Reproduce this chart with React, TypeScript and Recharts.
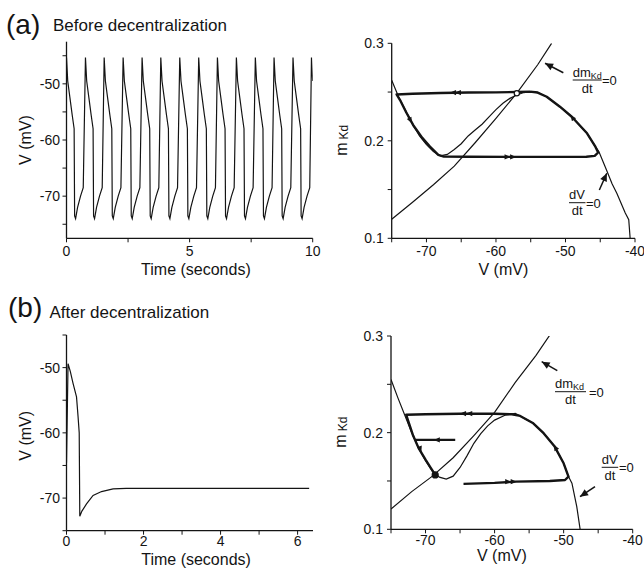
import React from 'react'
import { ComposedChart, Line, XAxis, YAxis, Label } from 'recharts'

const FONT = '"Liberation Sans", Arial, Helvetica, sans-serif'
const INK = '#141414'

// ---- (a) left: membrane potential before decentralization ----
const spikePeakTimesA = [0, 0.77, 1.53, 2.3, 3.07, 3.83, 4.6, 5.37, 6.13, 6.9, 7.67, 8.43, 9.2, 9.95]
const spikeOffsetsA = [0, 0.05, 0.14, 0.23, 0.31, 0.33, 0.37, 0.45, 0.57, 0.68]
const spikeVoltsA = [-45.3, -49.5, -52.5, -55.5, -58, -73.5, -74, -72, -70, -68.5]

// ---- (b) left: membrane potential after decentralization ----
const timeB = [0, 0.04, 0.1, 0.17, 0.26, 0.3, 0.33, 0.345, 0.4, 0.52, 0.69, 0.91, 1.21, 1.55, 6.3]
const voltB = [-64.6, -49.4, -50.6, -52.4, -54.5, -57.5, -60, -72.8, -72, -70.9, -69.6, -69, -68.6, -68.5, -68.5]

// ---- (a) right: phase plane ----
const mNullA_V = [-75, -72, -69, -66, -63, -60, -57, -54, -52]
const mNullA_m = [0.1195, 0.137, 0.155, 0.174, 0.198, 0.223, 0.249, 0.278, 0.3]

const vNullA_V = [-75, -74, -73, -72, -71, -70, -69, -68, -67, -66, -65, -64, -63, -62, -61, -60, -59, -58, -57, -56, -55, -54, -52.7, -50.8, -49.1, -46.9, -45.7, -45.2, -44.1, -43.3, -42.6, -41.4, -40.9, -40.7]
const vNullA_m = [0.262, 0.245, 0.231, 0.217, 0.205, 0.196, 0.189, 0.1845, 0.186, 0.191, 0.197, 0.205, 0.211, 0.217, 0.2245, 0.232, 0.2385, 0.2435, 0.247, 0.2495, 0.2505, 0.2495, 0.2452, 0.235, 0.2247, 0.2077, 0.194, 0.189, 0.17, 0.156, 0.146, 0.126, 0.119, 0.1]

const cycleA_V = [-55.1, -57, -60, -64, -68, -72, -74.3, -73.8, -72.9, -71.9, -70.6, -69.5, -68.3, -67.5, -64, -58, -52, -47, -45.8, -45.3, -45.7, -46.9, -49.1, -50.8, -52.7, -54, -55.1]
const cycleA_m = [0.2504, 0.25, 0.2497, 0.2495, 0.249, 0.2482, 0.2475, 0.2418, 0.229, 0.216, 0.203, 0.194, 0.1855, 0.1838, 0.1836, 0.1835, 0.1835, 0.1836, 0.1845, 0.188, 0.194, 0.2077, 0.2247, 0.235, 0.2452, 0.2495, 0.2504]

const fixedA = [{ V: -57.0, m: 0.2487 }]

const arrowsA: [number[], number[]][] = [
  [[-65.1, -65.9, -66.6], [0.2495, 0.2495, 0.2495]],
  [[-72.6, -72.1], [0.225, 0.218]],
  [[-58.7, -57.9, -57.1], [0.1835, 0.1835, 0.1835]],
  [[-48.5, -49.3], [0.219, 0.2265]],
]

const pointerA: [number[], number[]][] = [
  [[-50.31, -52.94], [0.2698, 0.2795]],
  [[-45.13, -44.06], [0.1495, 0.1667]],
]

// ---- (b) right: phase plane ----
const mNullB_V = [-75, -72, -69, -66, -63, -60, -57, -54, -52]
const mNullB_m = [0.121, 0.139, 0.155, 0.174, 0.197, 0.221, 0.252, 0.28, 0.301]

const vNullB_V = [-75, -74, -73, -72, -71, -70, -69, -68, -67, -66, -65, -64, -63, -62, -61, -60, -58.5, -57, -55.5, -54.4, -52.9, -51.3, -50, -49.3, -48.8, -48.1, -47.6]
const vNullB_m = [0.255, 0.236, 0.218, 0.2, 0.184, 0.171, 0.16, 0.154, 0.152, 0.155, 0.164, 0.176, 0.189, 0.199, 0.207, 0.213, 0.218, 0.22, 0.214, 0.2097, 0.1994, 0.1856, 0.1683, 0.1545, 0.1477, 0.1235, 0.0994]

const trajB_V = [-64.5, -60, -57, -52, -49.8, -49.3, -50, -51.3, -52.9, -54.4, -56.3, -57.5, -60, -65, -70, -72.8, -72.5, -71.8, -71, -70, -69.2, -68.6]
const trajB_m = [0.147, 0.148, 0.1493, 0.15, 0.151, 0.1545, 0.1683, 0.1856, 0.1994, 0.2097, 0.2173, 0.219, 0.2195, 0.2195, 0.219, 0.2185, 0.212, 0.197, 0.184, 0.172, 0.163, 0.1565]

const trajB2_V = [-65.7, -71.5]
const trajB2_m = [0.1925, 0.1925]

const fixedB = [{ V: -68.6, m: 0.1563 }]

const arrowsB: [number[], number[]][] = [
  [[-58.4, -57.6, -56.8], [0.1493, 0.1493, 0.1493]],
  [[-50.7, -51.4], [0.178, 0.1875]],
  [[-63.3, -64.1, -65.0], [0.2197, 0.2197, 0.2197]],
  [[-71.1, -70.6], [0.19, 0.18]],
  [[-68.0, -68.8], [0.1925, 0.1925]],
]

const pointerB: [number[], number[]][] = [
  [[-50.92, -53.18], [0.2641, 0.2734]],
  [[-45.46, -47.63], [0.1442, 0.1338]],
]

// ---- axes ----
const traceATicksX = [0, 2.5, 5, 7.5, 10]
const traceATickLabelsX = [0, 5, 10]
const traceBTicksX = [0, 1, 2, 3, 4, 5, 6]
const traceBTickLabelsX = [0, 2, 4, 6]
const traceATicksY = [-75, -70, -65, -60, -55, -50, -45]
const traceBTicksY = [-75, -70, -65, -60, -55, -50, -45]
const traceTickLabelsY = [-70, -60, -50]
const phaseTicksX = [-75, -70, -65, -60, -55, -50, -45, -40]
const phaseTickLabelsX = [-70, -60, -50, -40]
const phaseTicksY = [0.1, 0.15, 0.2, 0.25, 0.3]
const phaseTickLabelsY = [0.1, 0.2, 0.3]

const zip = (vs: number[], ms: number[]) => vs.map((V, i) => ({ V, m: ms[i] }))

const traceA = spikePeakTimesA
  .flatMap((t0) => spikeOffsetsA.map((o, i) => ({ t: +(t0 + o).toFixed(3), v: spikeVoltsA[i] })))
  .filter((p) => p.t <= 10.01)
const traceB = timeB.map((t, i) => ({ t, v: voltB[i] }))

const only = (labels: number[]) => (v: number) =>
  labels.some((l) => Math.abs(l - v) < 1e-9) ? String(v) : ''

const tickStyle = { fontSize: 14, fill: INK, fontFamily: FONT }
const axisLine = { stroke: INK, strokeWidth: 1.3 }
const tickLine = { stroke: INK, strokeWidth: 1 }
const Y_W = 50
const X_H = 30

function head(len: number, half: number) {
  return (props: any) => {
    const { cx, cy, index, points } = props
    if (!index || !points || cx == null || cy == null) return <g key={`h-${index}`} />
    const prev = points[index - 1]
    const a = Math.atan2(cy - prev.y, cx - prev.x)
    const bx = cx - len * Math.cos(a)
    const by = cy - len * Math.sin(a)
    const nx = -Math.sin(a) * half
    const ny = Math.cos(a) * half
    return (
      <polygon
        key={`h-${index}`}
        points={`${cx},${cy} ${bx + nx},${by + ny} ${bx - nx},${by - ny}`}
        fill={INK}
      />
    )
  }
}

function fixedDot(open: boolean) {
  return (props: any) => (
    <circle
      key={`f-${props.index}`}
      cx={props.cx}
      cy={props.cy}
      r={open ? 2.6 : 3}
      fill={open ? '#fff' : INK}
      stroke={INK}
      strokeWidth={1.2}
    />
  )
}

function margins(left: number, top: number, w: number, h: number, x0: number, x1: number, y0: number, y1: number) {
  return { top: y0 - top, bottom: top + h - y1 - X_H, left: x0 - left - Y_W, right: left + w - x1 }
}

function XTitle({ viewBox, text, dx, dy }: any) {
  return (
    <text x={viewBox.x + viewBox.width / 2 + dx} y={viewBox.y + dy} textAnchor="middle" fontSize={16} fill={INK} fontFamily={FONT}>
      {text}
    </text>
  )
}

function VTitle({ viewBox, dy }: any) {
  const x = viewBox.x + viewBox.width - 35.5
  const y = viewBox.y + viewBox.height / 2 + dy
  return (
    <text x={x} y={y} transform={`rotate(-90, ${x}, ${y})`} textAnchor="middle" fontSize={16} fill={INK} fontFamily={FONT}>
      V (mV)
    </text>
  )
}

function MTitle({ viewBox }: any) {
  const x = viewBox.x + viewBox.width - 44.7
  const y = viewBox.y + viewBox.height / 2 + 15
  return (
    <text x={x} y={y} transform={`rotate(-90, ${x}, ${y})`} textAnchor="start" fontSize={16} fill={INK} fontFamily={FONT}>
      m
      <tspan fontSize={12} dx={3} dy={1}>Kd</tspan>
    </text>
  )
}

function TracePanel({ left, top, w, h, plot, data, xMax, yDomain, xTicks, xLabels, yTicks, tickGap, title, yTitleDy }: any) {
  const [x0, x1, y0, y1] = plot
  return (
    <div style={{ position: 'absolute', left, top }}>
      <ComposedChart width={w} height={h} margin={margins(left, top, w, h, x0, x1, y0, y1)}>
        <XAxis
          type="number"
          dataKey="t"
          domain={[0, xMax]}
          allowDataOverflow
          ticks={xTicks}
          interval={0}
          tickFormatter={only(xLabels)}
          tick={tickStyle}
          tickSize={4}
          tickMargin={tickGap}
          axisLine={axisLine}
          tickLine={tickLine}
          height={X_H}
        >
          <Label content={(p: any) => <XTitle {...p} text="Time (seconds)" dx={6.3} dy={title} />} />
        </XAxis>
        <YAxis
          type="number"
          domain={yDomain}
          allowDataOverflow
          ticks={yTicks}
          interval={0}
          tickFormatter={only(traceTickLabelsY)}
          tick={tickStyle}
          tickSize={4}
          tickMargin={2.5}
          axisLine={axisLine}
          tickLine={tickLine}
          width={Y_W}
        >
          <Label content={(p: any) => <VTitle {...p} dy={yTitleDy} />} />
        </YAxis>
        <Line data={data} dataKey="v" type="linear" stroke={INK} strokeWidth={1.2} dot={false} activeDot={false} isAnimationActive={false} />
      </ComposedChart>
    </div>
  )
}

function PhasePanel({ left, top, w, h, plot, mNull, vNull, trajectories, arrows, pointers, fixed, open, tickGap, titleDy }: any) {
  const [x0, x1, y0, y1] = plot
  return (
    <div style={{ position: 'absolute', left, top }}>
      <ComposedChart width={w} height={h} margin={margins(left, top, w, h, x0, x1, y0, y1)}>
        <XAxis
          type="number"
          dataKey="V"
          domain={[-75, -40]}
          allowDataOverflow
          ticks={phaseTicksX}
          interval={0}
          tickFormatter={only(phaseTickLabelsX)}
          tick={tickStyle}
          tickSize={4}
          tickMargin={tickGap}
          axisLine={axisLine}
          tickLine={tickLine}
          height={X_H}
        >
          <Label content={(p: any) => <XTitle {...p} text="V (mV)" dx={-10} dy={titleDy} />} />
        </XAxis>
        <YAxis
          type="number"
          domain={[0.1, 0.3]}
          allowDataOverflow
          ticks={phaseTicksY}
          interval={0}
          tickFormatter={only(phaseTickLabelsY)}
          tick={tickStyle}
          tickSize={4}
          tickMargin={4}
          axisLine={axisLine}
          tickLine={tickLine}
          width={Y_W}
        >
          <Label content={(p: any) => <MTitle {...p} />} />
        </YAxis>
        <Line data={mNull} dataKey="m" type="linear" stroke={INK} strokeWidth={1.2} dot={false} activeDot={false} isAnimationActive={false} />
        <Line data={vNull} dataKey="m" type="linear" stroke={INK} strokeWidth={1.2} dot={false} activeDot={false} isAnimationActive={false} />
        {trajectories.map((d: any, i: number) => (
          <Line key={`tr-${i}`} data={d} dataKey="m" type="linear" stroke={INK} strokeWidth={2.4} strokeLinejoin="round" dot={false} activeDot={false} isAnimationActive={false} />
        ))}
        {arrows.map((d: any, i: number) => (
          <Line key={`ar-${i}`} data={d} dataKey="m" type="linear" stroke="none" dot={head(6, 2.6)} activeDot={false} isAnimationActive={false} />
        ))}
        {pointers.map((d: any, i: number) => (
          <Line key={`pt-${i}`} data={d} dataKey="m" type="linear" stroke={INK} strokeWidth={1.5} dot={head(8, 3.6)} activeDot={false} isAnimationActive={false} />
        ))}
        <Line data={fixed} dataKey="m" stroke="none" dot={fixedDot(open)} activeDot={false} isAnimationActive={false} />
      </ComposedChart>
    </div>
  )
}

function Frac({ x, barY, w, eqX, num }: any) {
  return (
    <g fontFamily={FONT} fill={INK} fontSize={13}>
      <text x={x} y={barY - 3.5}>{num}</text>
      <line x1={x} x2={x + w} y1={barY} y2={barY} stroke={INK} strokeWidth={1} />
      <text x={x + w / 2} y={barY + 12.5} textAnchor="middle">dt</text>
      <text x={eqX} y={barY + 5}>=0</text>
    </g>
  )
}

const dmNum = (
  <>
    dm<tspan fontSize={9} dy={2}>Kd</tspan>
  </>
)

export default function App() {
  return (
    <div style={{ position: 'absolute', left: 0, top: 0, width: 644, height: 573, background: '#fff', overflow: 'hidden' }}>
      <TracePanel
        left={0} top={0} w={330} h={290}
        plot={[66.5, 312.7, 41.7, 238.3]}
        data={traceA} xMax={10} yDomain={[-77.5, -42.5]}
        xTicks={traceATicksX} xLabels={traceATickLabelsX} yTicks={traceATicksY}
        tickGap={4} title={36.7} yTitleDy={0}
      />
      <TracePanel
        left={0} top={290} w={330} h={283}
        plot={[66.5, 313, 335, 530.7]}
        data={traceB} xMax={6.4} yDomain={[-75, -45]}
        xTicks={traceBTicksX} xLabels={traceBTickLabelsX} yTicks={traceBTicksY}
        tickGap={1.5} title={34.3} yTitleDy={3}
      />
      <PhasePanel
        left={330} top={0} w={314} h={290}
        plot={[391.7, 635, 43.3, 238.3]}
        mNull={zip(mNullA_V, mNullA_m)}
        vNull={zip(vNullA_V, vNullA_m)}
        trajectories={[zip(cycleA_V, cycleA_m)]}
        arrows={arrowsA.map(([v, m]) => zip(v, m))}
        pointers={pointerA.map(([v, m]) => zip(v, m))}
        fixed={fixedA} open={true} tickGap={4} titleDy={36.7}
      />
      <PhasePanel
        left={330} top={290} w={314} h={283}
        plot={[391, 632.7, 336, 529.3]}
        mNull={zip(mNullB_V, mNullB_m)}
        vNull={zip(vNullB_V, vNullB_m)}
        trajectories={[zip(trajB_V, trajB_m), zip(trajB2_V, trajB2_m)]}
        arrows={arrowsB.map(([v, m]) => zip(v, m))}
        pointers={pointerB.map(([v, m]) => zip(v, m))}
        fixed={fixedB} open={false} tickGap={1.5} titleDy={32}
      />
      <svg width={644} height={573} style={{ position: 'absolute', left: 0, top: 0, pointerEvents: 'none' }}>
        <g fontFamily={FONT} fill={INK}>
          <text x={6} y={34} fontSize={28}>(a)</text>
          <text x={53} y={30.5} fontSize={17}>Before decentralization</text>
          <text x={8} y={317} fontSize={28}>(b)</text>
          <text x={49.5} y={318} fontSize={17}>After decentralization</text>
        </g>
        <Frac x={572.7} barY={80} w={29} eqX={602} num={dmNum} />
        <Frac x={569} barY={202.7} w={16.5} eqX={586} num="dV" />
        <Frac x={555} barY={391.7} w={31} eqX={589} num={dmNum} />
        <Frac x={601.7} barY={467.3} w={16.5} eqX={619} num="dV" />
      </svg>
    </div>
  )
}
